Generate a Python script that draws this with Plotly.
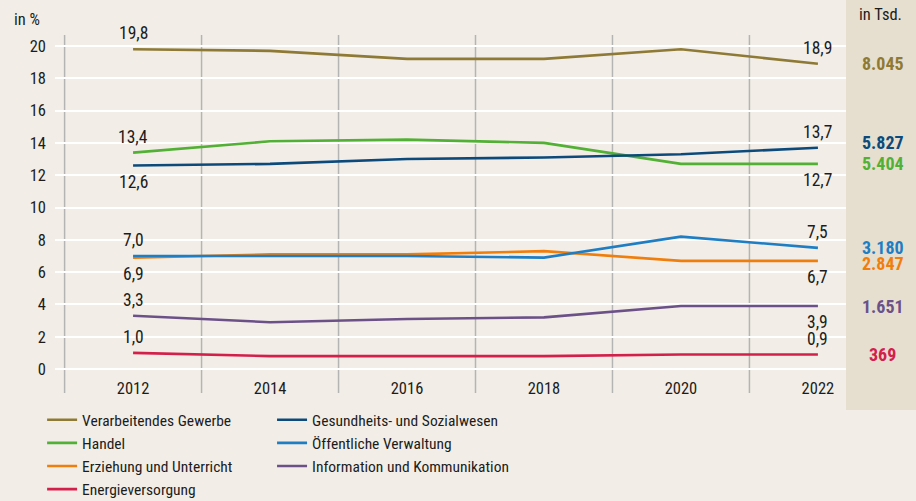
import plotly.graph_objects as go

years = [2012, 2014, 2016, 2018, 2020, 2022]

names = ["Verarbeitendes Gewerbe", "Handel", "Erziehung und Unterricht", "Energieversorgung",
         "Gesundheits- und Sozialwesen", "Öffentliche Verwaltung", "Information und Kommunikation"]
verarbeitendes = [19.8, 19.7, 19.2, 19.2, 19.8, 18.9]
handel = [13.4, 14.1, 14.2, 14.0, 12.7, 12.7]
erziehung = [6.9, 7.1, 7.1, 7.3, 6.7, 6.7]
energie = [1.0, 0.8, 0.8, 0.8, 0.9, 0.9]
gesundheit = [12.6, 12.7, 13.0, 13.1, 13.3, 13.7]
verwaltung = [7.0, 7.0, 7.0, 6.9, 8.2, 7.5]
information = [3.3, 2.9, 3.1, 3.2, 3.9, 3.9]
values = [verarbeitendes, handel, erziehung, energie, gesundheit, verwaltung, information]

colors = ["#8e7a35", "#52b034", "#f07e0c", "#d3204b", "#0c4a7b", "#1f7ec3", "#6c5189"]
legend_ids = ["legend", "legend", "legend", "legend", "legend2", "legend2", "legend2"]

# label position at 2012 / 2022: +1 above, -1 below
first_pos = [1, 1, -1, 1, -1, 1, 1]
last_pos = [1, -1, -1, 1, 1, 1, -1]

tsd = ["8.045", "5.404", "2.847", "369", "5.827", "3.180", "1.651"]
tsd_shift = [0, 0, -3, 0, 5, 0, 0]

FONT = "Roboto Condensed, Noto Sans Condensed, Liberation Sans Narrow, Roboto, sans-serif"
TXT = "#1c1c1c"

fig = go.Figure()
for n, v, c, lg in zip(names, values, colors, legend_ids):
    fig.add_trace(go.Scatter(x=years, y=v, name=n, mode="lines",
                             line=dict(color=c, width=2.6), legend=lg))

ann = []
for v, fp, lp in zip(values, first_pos, last_pos):
    for x, y, p in [(years[0], v[0], fp), (years[-1], v[-1], lp)]:
        ann.append(dict(x=x, y=y, xref="x", yref="y", text=f"{y:.1f}".replace(".", ","),
                        showarrow=False, yshift=16 * p,
                        font=dict(family=FONT, size=17.5, color=TXT)))
for v, c, t, s in zip(values, colors, tsd, tsd_shift):
    ann.append(dict(x=1.0465, y=v[-1], xref="paper", yref="y", text=f"<b>{t}</b>",
                    showarrow=False, yshift=s, xanchor="center", yanchor="middle",
                    font=dict(family=FONT, size=18, color=c)))
ann.append(dict(x=-0.054, y=1.044, xref="paper", yref="paper", text="in %", showarrow=False,
                xanchor="left", yanchor="middle", font=dict(family=FONT, size=16.5, color=TXT)))
ann.append(dict(x=1.0435, y=1.059, xref="paper", yref="paper", text="in Tsd.", showarrow=False,
                xanchor="center", yanchor="middle", font=dict(family=FONT, size=16.5, color=TXT)))

shapes = [dict(type="rect", xref="paper", yref="paper", x0=1.0, x1=1.1, y0=-0.0997, y1=1.2,
               fillcolor="#e6dfd0", line=dict(width=0), layer="below")]
for xv in [2011, 2013, 2015, 2017, 2019, 2021]:
    shapes.append(dict(type="line", xref="x", yref="paper", x0=xv, x1=xv, y0=-0.05, y1=1.0,
                       line=dict(color="#b4b4b4", width=1.5), layer="below"))

fig.update_layout(
    width=916, height=501,
    margin=dict(l=55, r=70, t=35, b=125, autoexpand=False),
    paper_bgcolor="#f2eee7", plot_bgcolor="#f2eee7",
    font=dict(family=FONT, size=16, color=TXT),
    xaxis=dict(range=[2012 - 1.14, 2022 + 0.41], tickvals=years, showgrid=False,
               zeroline=False, showline=False, ticks="", tickfont=dict(size=16.5)),
    yaxis=dict(range=[-0.43, 20.68], tickvals=list(range(0, 21, 2)), gridcolor="#ffffff",
               gridwidth=2, zeroline=False, showline=False, ticks="", ticklabelstandoff=8,
               tickfont=dict(size=16.5)),
    annotations=ann, shapes=shapes,
    legend=dict(x=-0.0163, y=-0.0796, xanchor="left", yanchor="top", orientation="v",
                bgcolor="rgba(0,0,0,0)", font=dict(size=15.5), tracegroupgap=0),
    legend2=dict(x=0.2744, y=-0.0796, xanchor="left", yanchor="top", orientation="v",
                 bgcolor="rgba(0,0,0,0)", font=dict(size=15.5), tracegroupgap=0),
)
fig.write_html("out.html", config={"displayModeBar": False},
               post_script="document.body.style.margin='0';")
